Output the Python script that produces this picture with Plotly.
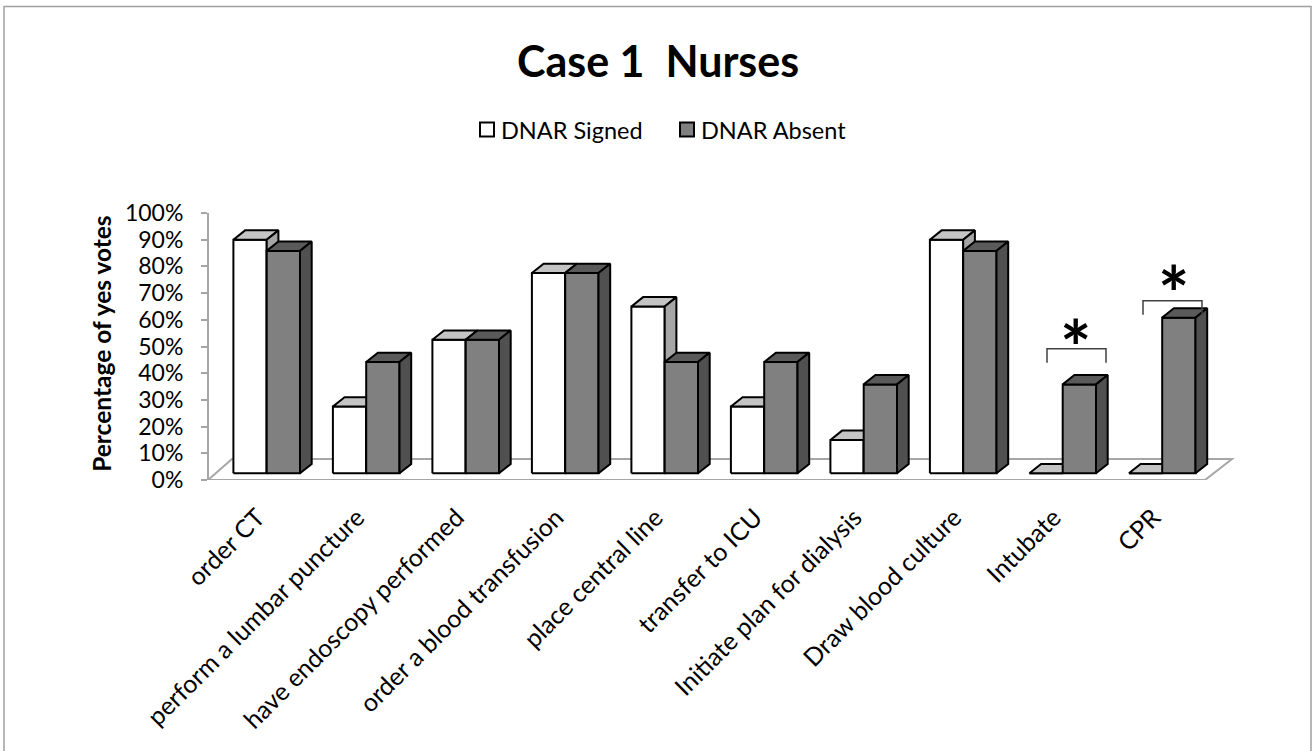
import plotly.graph_objects as go

# ---------------- data ----------------
categories = ["order CT", "perform a lumbar puncture", "have endoscopy performed",
              "order a blood transfusion", "place central line", "transfer to ICU",
              "Initiate plan for dialysis", "Draw blood culture", "Intubate", "CPR"]
dnar_signed = [0.875, 0.25, 0.50, 0.75, 0.625, 0.25, 0.125, 0.875, 0.0, 0.0]
dnar_absent = [0.833, 0.417, 0.50, 0.75, 0.417, 0.417, 0.333, 0.833, 0.333, 0.583]
series_names = ["DNAR Signed", "DNAR Absent"]
y_tick_values = [0.0, 0.1, 0.2, 0.3, 0.4, 0.5, 0.6, 0.7, 0.8, 0.9, 1.0]
significant = ["Intubate", "CPR"]

# ---------------- geometry / style (pixels) ----------------
FIG_W, FIG_H = 1315, 751
PL, PR, PT, PB = 208, 1240, 213.3, 480      # plot area edges
CAT0, CAT_STEP = 266.7, 99.5                # bar-plane category centres
BASE, UNIT = 473.3, 266.7                   # bar-plane baseline, px per 100%
BAR_W = 33.3
DEPTH_DX, DEPTH_DY = 11.7, 9.3
LABEL_SHIFT_PX = -9                         # category labels sit on the front edge
FONT = "Lato"

FRONT = ["#ffffff", "#808080"]
TOP = ["#c4c4c4", "#5a5a5a"]
SIDE = ["#a6a6a6", "#505050"]
EDGE = "#000000"
AXIS_GRAY = "#a6a6a6"


def px_x(p):
    return (p - CAT0) / CAT_STEP


def px_y(p):
    return (BASE - p) / UNIT


def paper_x(p):
    return (p - PL) / (PR - PL)


def paper_y(p):
    return (PB - p) / (PB - PT)


W = BAR_W / CAT_STEP
DX = DEPTH_DX / CAT_STEP
DY = DEPTH_DY / UNIT


def faces(vals, s):
    fx, fy, tx, ty, sx, sy = [], [], [], [], [], []
    for i, v in enumerate(vals):
        x0 = i - W + s * W
        x1 = x0 + W
        fx += [x0, x1, x1, x0, x0, None]
        fy += [0, 0, v, v, 0, None]
        tx += [x0, x1, x1 + DX, x0 + DX, x0, None]
        ty += [v, v, v + DY, v + DY, v, None]
        sx += [x1, x1 + DX, x1 + DX, x1, x1, None]
        sy += [0, DY, v + DY, v, 0, None]
    return (fx, fy), (tx, ty), (sx, sy)


fig = go.Figure()
for s, vals in enumerate([dnar_signed, dnar_absent]):
    front, top, side = faces(vals, s)
    for (xs, ys), col in [(front, FRONT[s]), (top, TOP[s]), (side, SIDE[s])]:
        fig.add_trace(go.Scatter(
            x=xs, y=ys, mode="lines", fill="toself", fillcolor=col,
            line=dict(color=EDGE, width=2), name=series_names[s],
            showlegend=False, hoverinfo="skip", xaxis="x", yaxis="y"))

# front axis (display only)
fig.add_trace(go.Scatter(x=[None], y=[None], xaxis="x", yaxis="y2",
                         showlegend=False, hoverinfo="skip"))

shapes = []
# floor
floor_pts = [(PL, PB), (1205, PB), (1232, 459), (232, 459)]
path = "M " + " L ".join(f"{px_x(a)},{px_y(b)}" for a, b in floor_pts) + " Z"
shapes.append(dict(type="path", path=path, xref="x", yref="y", layer="below",
                   fillcolor="white", line=dict(color=AXIS_GRAY, width=2)))

# significance brackets
bracket_px = [(1047, 1106, 349, 363), (1143, 1202, 301, 315)]
for (xa, xb, yt, yb) in bracket_px:
    p = (f"M {px_x(xa)},{px_y(yb)} L {px_x(xa)},{px_y(yt)} "
         f"L {px_x(xb)},{px_y(yt)} L {px_x(xb)},{px_y(yb)}")
    shapes.append(dict(type="path", path=p, xref="x", yref="y",
                       line=dict(color="#404040", width=1.5)))

# chart border
shapes.append(dict(type="rect", xref="paper", yref="paper",
                   x0=paper_x(4), x1=paper_x(1311), y0=paper_y(765), y1=paper_y(7),
                   line=dict(color="#a0a0a0", width=1.5), fillcolor="rgba(0,0,0,0)",
                   layer="below"))

# legend squares
legend_px = [(479, 499), (679, 699)]
for s, (sqx, tx) in enumerate(legend_px):
    shapes.append(dict(type="rect", xref="paper", yref="paper",
                       x0=paper_x(sqx + 1), x1=paper_x(sqx + 15),
                       y0=paper_y(137), y1=paper_y(123),
                       fillcolor=FRONT[s], line=dict(color=EDGE, width=2)))

annotations = []
for s, (sqx, tx) in enumerate(legend_px):
    annotations.append(dict(text=series_names[s], xref="paper", yref="paper",
                            x=paper_x(tx), y=paper_y(130), xanchor="left",
                            yanchor="middle", showarrow=False,
                            font=dict(family=FONT, size=23.5, color="black")))

annotations.append(dict(text="Case 1\u00a0 Nurses", xref="paper", yref="paper",
                        x=paper_x(658), y=paper_y(61), xanchor="center",
                        yanchor="middle", showarrow=False,
                        font=dict(family=FONT, size=43, color="black",
                                  weight="bold")))

annotations.append(dict(text="Percentage of yes votes", xref="paper", yref="paper",
                        x=paper_x(102), y=paper_y(344), xanchor="center",
                        yanchor="middle", textangle=-90, showarrow=False,
                        font=dict(family=FONT, size=24.5, color="black",
                                  weight="bold")))

star_px = [(1075, 347), (1173, 293)]
for (sx_, sy_) in star_px:
    annotations.append(dict(text="*", xref="paper", yref="paper",
                            x=paper_x(sx_), y=paper_y(sy_), xanchor="center",
                            yanchor="middle", showarrow=False,
                            font=dict(family=FONT, size=74, color="black",
                                      weight="bold")))

label_positions = [i + LABEL_SHIFT_PX / CAT_STEP for i in range(len(categories))]

fig.update_layout(
    width=FIG_W, height=FIG_H,
    margin=dict(l=PL, r=FIG_W - PR, t=PT, b=FIG_H - PB, pad=0),
    paper_bgcolor="white", plot_bgcolor="rgba(0,0,0,0)",
    showlegend=False,
    xaxis=dict(range=[px_x(PL), px_x(PR)], tickvals=label_positions,
               ticktext=categories, tickangle=-45, showgrid=False, zeroline=False,
               showline=False, ticks="", fixedrange=True, ticklabelstandoff=17,
               tickfont=dict(family=FONT, size=25, color="black")),
    yaxis=dict(range=[px_y(PB), px_y(PT)], visible=False, fixedrange=True),
    yaxis2=dict(overlaying="y", anchor="free", position=0, side="left",
                range=[0, (PB - PT) / UNIT], tickvals=y_tick_values,
                tickformat=".0%", showgrid=False, zeroline=False,
                showline=True, linecolor=AXIS_GRAY, linewidth=2,
                ticks="outside", ticklen=6, tickcolor=AXIS_GRAY, tickwidth=2,
                ticklabelstandoff=13, fixedrange=True,
                tickfont=dict(family=FONT, size=23, color="black")),
    shapes=shapes, annotations=annotations,
)

fig.write_html("out.html", include_plotlyjs=True, config={"displayModeBar": False},
               post_script="document.body.style.margin='0';document.body.style.overflow='hidden';")
